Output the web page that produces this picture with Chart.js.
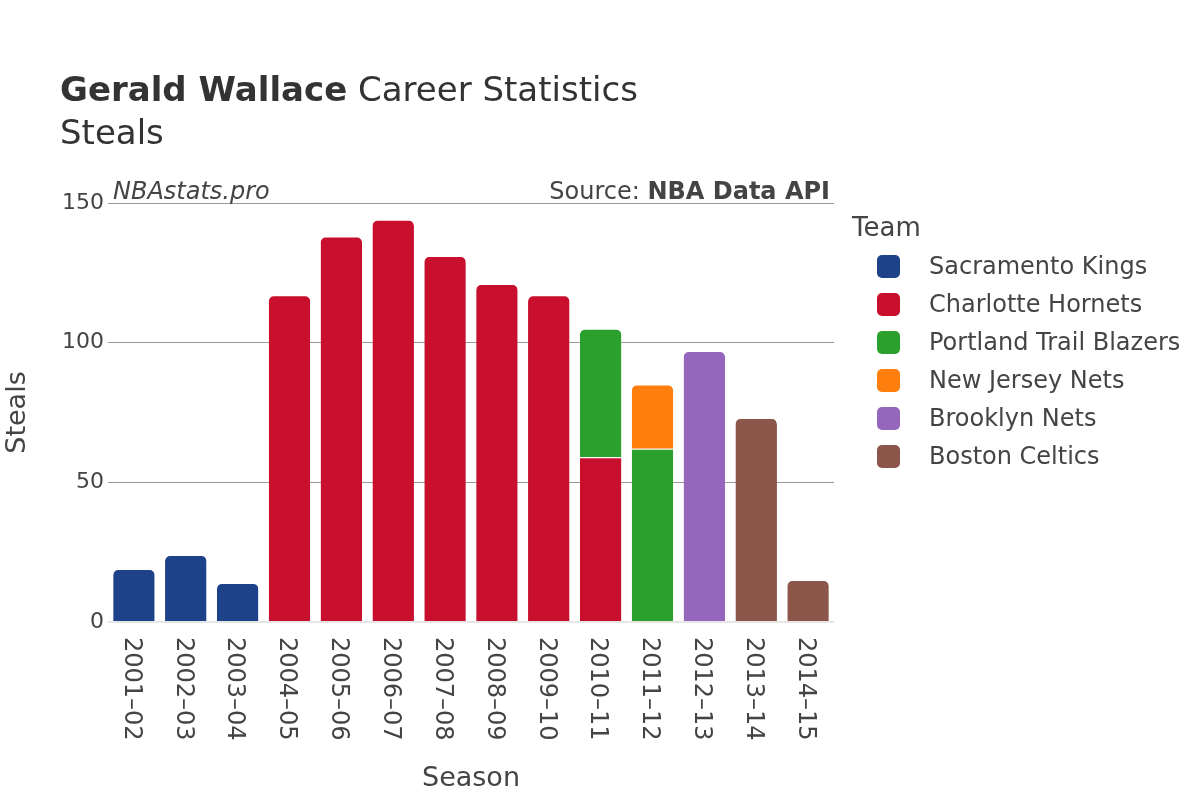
<!DOCTYPE html>
<html>
<head>
<meta charset="utf-8">
<script src="https://cdn.jsdelivr.net/npm/chart.js@4"></script>
<style>
  html, body { margin: 0; padding: 0; background: #fff; }
  body { width: 1200px; height: 800px; position: relative; overflow: hidden; font-family: "DejaVu Sans", sans-serif; }
  #c { position: absolute; left: 0; top: 0; }
  .t { position: absolute; white-space: nowrap; line-height: 1; color: #444; }
  .sw { position: absolute; width: 23px; height: 23px; border-radius: 5px; }
</style>
</head>
<body>
<canvas id="c" width="1200" height="800"></canvas>
<div class="t" style="left:60px; top:72px; font-size:34px; color:#333;"><b>Gerald Wallace</b> Career Statistics</div>
<div class="t" style="left:60px; top:115px; font-size:34px; color:#333;">Steals</div>
<div class="t" style="left:113px; top:179px; font-size:24px; font-style:italic;">NBAstats.pro</div>
<div class="t" style="right:370px; top:179px; font-size:24px;">Source: <b>NBA Data API</b></div>
<div id="legend"></div>
<script>
const seasons = ["2001–02","2002–03","2003–04","2004–05","2005–06","2006–07","2007–08","2008–09","2009–10","2010–11","2011–12","2012–13","2013–14","2014–15"];
const teams = ["Sacramento Kings","Charlotte Hornets","Portland Trail Blazers","New Jersey Nets","Brooklyn Nets","Boston Celtics"];
const teamColors = ["#1d428a","#c8102e","#2ca02c","#ff7f0e","#9467bd","#8c564b"];
const sacramentoKings     = [19, 24, 14, null, null, null, null, null, null, null, null, null, null, null];
const charlotteHornets    = [null, null, null, 117, 138, 144, 131, 121, 117, 59, null, null, null, null];
const portlandTrailBlazers= [null, null, null, null, null, null, null, null, null, 46, 62, null, null, null];
const newJerseyNets       = [null, null, null, null, null, null, null, null, null, null, 23, null, null, null];
const brooklynNets        = [null, null, null, null, null, null, null, null, null, null, null, 97, null, null];
const bostonCeltics       = [null, null, null, null, null, null, null, null, null, null, null, null, 73, 15];
const yTicks = [0, 50, 100, 150];

const seriesValues = [sacramentoKings, charlotteHornets, portlandTrailBlazers, newJerseyNets, brooklynNets, bostonCeltics];

// HTML legend
const legend = document.getElementById('legend');
const lt = document.createElement('div');
lt.className = 't';
lt.style.cssText = 'left:852px; top:214px; font-size:26px;';
lt.textContent = 'Team';
legend.appendChild(lt);
teams.forEach((name, i) => {
  const cy = 266 + i * 38;
  const sw = document.createElement('div');
  sw.className = 'sw';
  sw.style.left = '877px';
  sw.style.top = (cy - 11.5) + 'px';
  sw.style.background = teamColors[i];
  legend.appendChild(sw);
  const tx = document.createElement('div');
  tx.className = 't';
  tx.style.cssText = 'left:929px; font-size:24px;';
  tx.style.top = (cy - 12) + 'px';
  tx.textContent = name;
  legend.appendChild(tx);
});

const xLabelPlugin = {
  id: 'xLabels',
  afterDraw(chart) {
    const xs = chart.scales.x;
    const ctx = chart.ctx;
    ctx.save();
    ctx.font = '24px "DejaVu Sans"';
    ctx.fillStyle = '#444';
    ctx.textAlign = 'left';
    ctx.textBaseline = 'middle';
    seasons.forEach((s, i) => {
      const x = xs.getPixelForValue(i) - 3;
      ctx.save();
      ctx.translate(x, 637);
      ctx.rotate(Math.PI / 2);
      ctx.fillText(s, 0, 0);
      ctx.restore();
    });
    ctx.restore();
  }
};

new Chart(document.getElementById('c'), {
  type: 'bar',
  data: {
    labels: seasons,
    datasets: teams.map((name, i) => ({
      label: name,
      data: seriesValues[i],
      backgroundColor: teamColors[i],
      borderColor: '#ffffff',
      borderWidth: {top: 1, left: 0, right: 0, bottom: 0},
      borderSkipped: 'start',
      borderRadius: 6,
      barPercentage: 0.8,
      categoryPercentage: 1.0
    }))
  },
  options: {
    responsive: false,
    animation: false,
    layout: { padding: { left: 0, right: 366, top: 203, bottom: 0 } },
    plugins: { legend: { display: false }, tooltip: { enabled: false } },
    scales: {
      x: {
        stacked: true,
        grid: { display: false, drawTicks: false },
        border: { display: false },
        ticks: { display: false },
        title: { display: true, text: 'Season', color: '#444', font: { family: 'DejaVu Sans', size: 27, lineHeight: 1 }, padding: { top: 0, bottom: 8 } },
        afterFit(scale) { scale.height = 178; }
      },
      y: {
        stacked: true,
        min: 0,
        max: 150,
        afterBuildTicks(scale) { scale.ticks = yTicks.map(v => ({ value: v })); },
        grid: {
          drawTicks: false,
          color: ctx => (ctx.tick && ctx.tick.value === 0) ? '#e6e6e6' : '#9a9a9a',
          lineWidth: ctx => (ctx.tick && ctx.tick.value === 0) ? 2 : 1
        },
        border: { display: false },
        ticks: { color: '#444', padding: 4, font: { family: 'DejaVu Sans', size: 22 } },
        title: { display: true, text: 'Steals', color: '#444', font: { family: 'DejaVu Sans', size: 27, lineHeight: 1 }, padding: { top: 4, bottom: 0 } },
        afterFit(scale) { scale.width = 108; }
      }
    }
  },
  plugins: [xLabelPlugin]
});
</script>
</body>
</html>
